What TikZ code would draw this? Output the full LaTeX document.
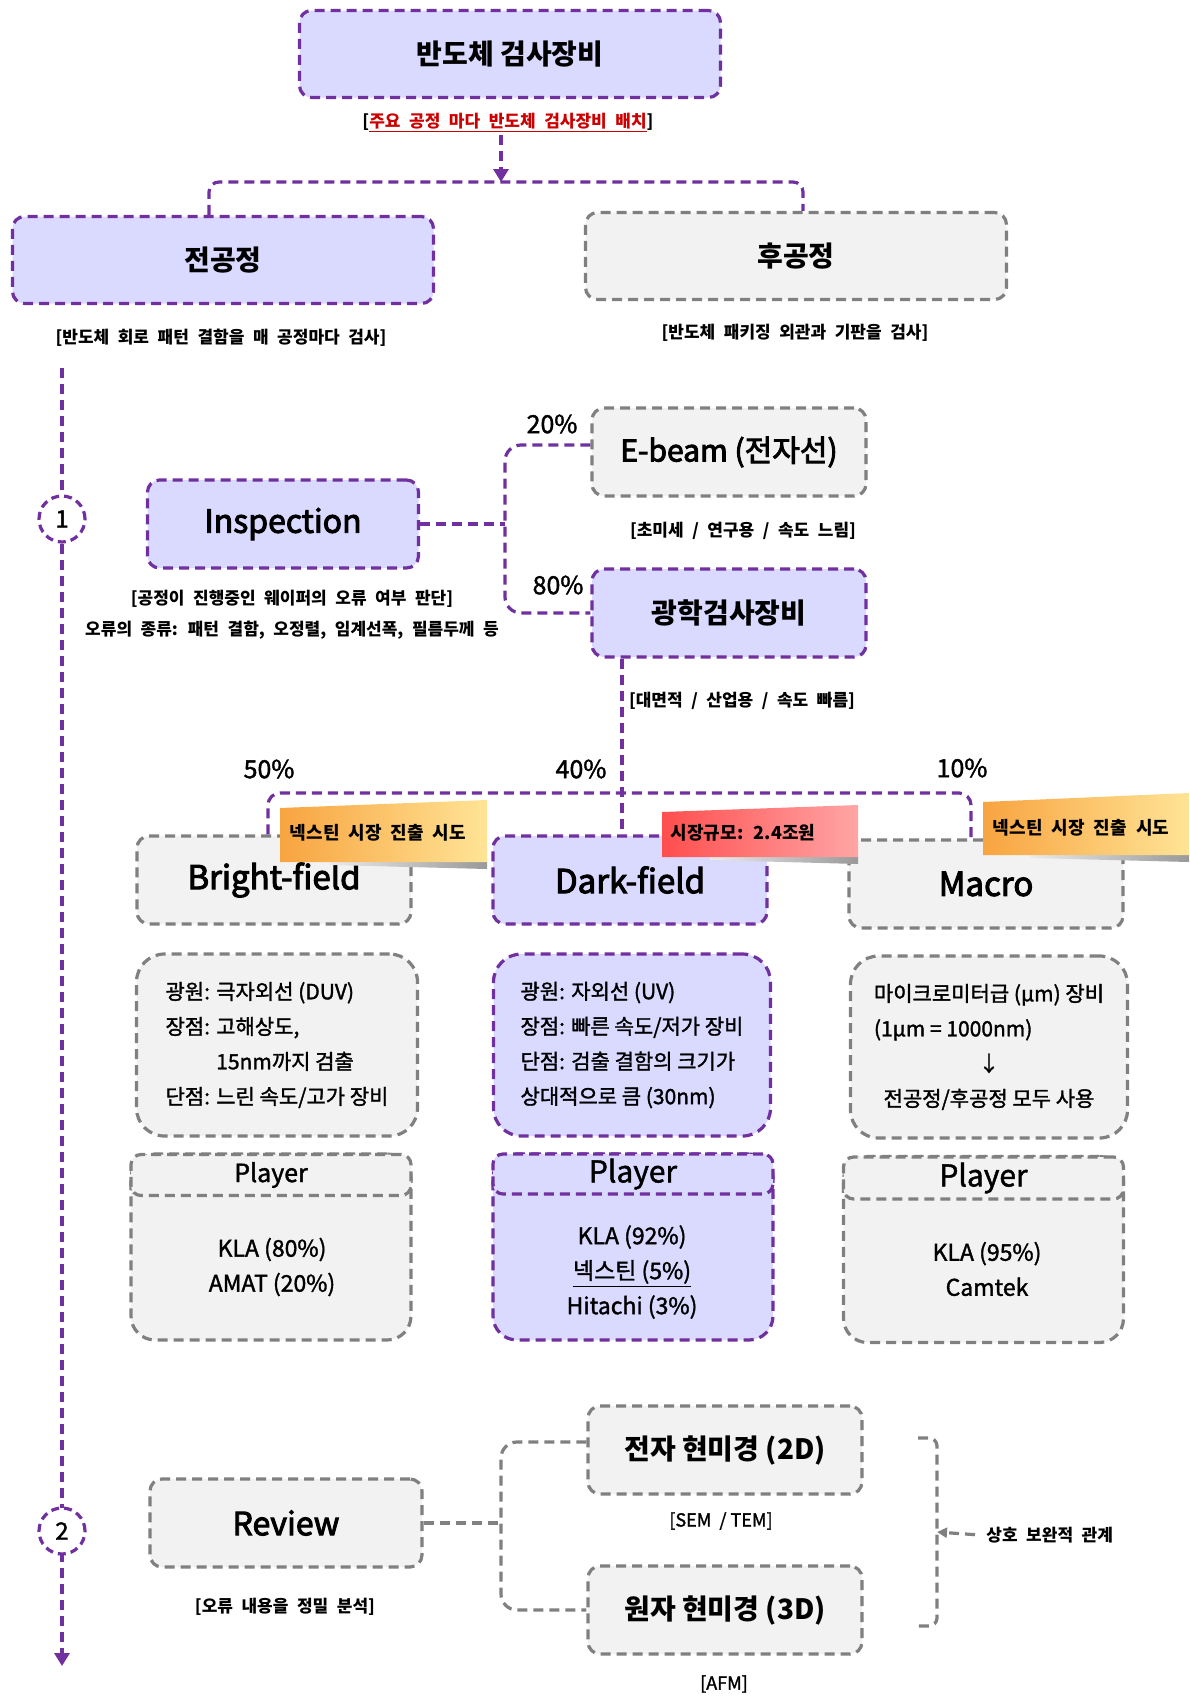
\documentclass[tikz,border=0pt]{standalone}
\usepackage{fontspec}
\setmainfont{Noto Sans CJK KR}
\newfontfamily\medfont{Noto Sans CJK KR}[FakeBold=1.5]
\newfontfamily\headfont{Noto Sans CJK KR}[FakeBold=3]
\newfontfamily\notefont{Noto Sans CJK KR}[WordSpace=2.2]
\usetikzlibrary{arrows.meta}
\definecolor{violetline}{RGB}{112,48,160}
\definecolor{lavender}{RGB}{218,217,255}
\definecolor{greyline}{RGB}{128,128,128}
\definecolor{greyfill}{RGB}{242,242,242}
\definecolor{redtext}{RGB}{204,0,0}
\definecolor{noteorange}{RGB}{248,164,64}
\definecolor{noteyellow}{RGB}{255,228,150}
\definecolor{notered}{RGB}{255,78,78}
\definecolor{notepink}{RGB}{255,165,165}
\begin{document}
\begin{tikzpicture}[x=0.5pt,y=-0.5pt,
  pline/.style={draw=violetline, line width=1.6pt, dash pattern=on 5pt off 3pt},
  gline/.style={draw=greyline, line width=1.6pt, dash pattern=on 5pt off 3pt},
  purplebox/.style={pline, fill=lavender, rounded corners=6pt, inner sep=0pt},
  greybox/.style={gline, fill=greyfill, rounded corners=6pt, inner sep=0pt},
  widebox/.style={minimum width=210.5pt, minimum height=43.5pt},
  midbox/.style={minimum width=137pt, minimum height=44pt},
  infobox/.style={rounded corners=14pt, minimum width=139pt, minimum height=91pt},
  playerbox/.style={rounded corners=12pt, minimum width=140pt, minimum height=93pt},
  headbox/.style={rounded corners=5pt, minimum width=140pt, minimum height=20.5pt},
  ktitle/.style={font=\fontsize{14}{17}\selectfont\bfseries},
  etitle/.style={font=\headfont\fontsize{16.5}{20}\selectfont},
  smalltxt/.style={font=\notefont\fontsize{8.5}{11}\selectfont\bfseries, inner sep=1pt},
  pcttxt/.style={font=\medfont\fontsize{12.5}{15}\selectfont},
  infotxt/.style={font=\medfont\fontsize{10.5}{17.5}\selectfont, align=left},
  sharetxt/.style={font=\medfont\fontsize{11.5}{17.5}\selectfont, align=center},
  notetxt/.style={font=\notefont\fontsize{9}{11}\selectfont\bfseries},
  stepcircle/.style={circle, draw=violetline, line width=1.6pt, dash pattern=on 4pt off 2.5pt,
    fill=white, minimum size=23pt, inner sep=0pt, font=\medfont\fontsize{12}{14}\selectfont},
  flowtip/.style={-{Triangle[width=7.5pt,length=6.5pt]}}
]
\useasboundingbox (0,0) rectangle (1189,1697);

\node[purplebox, widebox, ktitle] (title) at (510,54) {반도체 검사장비};
\node[smalltxt] (titlenote) at (508,123) {[\textcolor{redtext}{\underline{주요 공정 마다 반도체 검사장비 배치}}]};
\node[purplebox, widebox, ktitle] (front) at (223,260) {전공정};
\node[greybox, widebox, ktitle] (back) at (796,256) {후공정};
\node[smalltxt] (frontnote) at (221,338) {[반도체 회로 패턴 결함을 매 공정마다 검사]};
\node[smalltxt] (backnote) at (795,333) {[반도체 패키징 외관과 기판을 검사]};

\coordinate (busarrow) at (501,182);
\coordinate (busleftA) at (209,182);
\coordinate (busrightA) at (803,182);
\draw[pline, flowtip] (titlenote.south -| busarrow) -- (busarrow);
\draw[pline, rounded corners=5pt] (front.north -| busleftA) |- (busrightA) -- (back.north -| busrightA);

\coordinate (flowtop) at (62,368);
\coordinate (flowend) at (62,1666);
\draw[pline, flowtip] (flowtop) -- (flowend);
\node[stepcircle] (stepone) at (62,519) {1};
\node[stepcircle] (steptwo) at (62,1531) {2};

\node[purplebox, midbox, minimum width=135.5pt, font=\headfont\fontsize{16}{18}\selectfont] (insp) at (283,524) {Inspection};
\node[smalltxt, align=center, font=\notefont\fontsize{8.5}{15.5}\selectfont\bfseries] (inspnote) at (292,615) {[공정이 진행중인 웨이퍼의 오류 여부 판단]\\오류의 종류: 패턴 결함, 오정렬, 임계선폭, 필름두께 등};

\node[greybox, midbox, font=\headfont\fontsize{15}{18}\selectfont] (ebeam) at (729,452) {E-beam (전자선)};
\node[pcttxt] (ebeampct) at (552,424) {20\%};
\node[smalltxt] (ebeamnote) at (743,531) {[초미세 / 연구용 / 속도 느림]};
\node[purplebox, midbox, ktitle] (optic) at (729,613) {광학검사장비};
\node[pcttxt] (opticpct) at (558,585) {80\%};
\node[smalltxt] (opticnote) at (742,701) {[대면적 / 산업용 / 속도 빠름]};

\coordinate (inspjoint) at (505,524);
\draw[pline] (insp.east) -- (inspjoint);
\draw[pline, rounded corners=8pt] ([yshift=3.5pt]ebeam.west) -| (inspjoint) |- (optic.west);

\node[pcttxt] (brightpct) at (269,769) {50\%};
\node[pcttxt] (darkpct) at (581,769) {40\%};
\node[pcttxt] (macropct) at (962,768) {10\%};
\node[greybox, midbox, etitle] (bright) at (274,880) {Bright-field};
\node[purplebox, midbox, etitle] (dark) at (630,880) {Dark-field};
\node[greybox, midbox, etitle] (macro) at (986,884) {Macro};

\coordinate (busleft) at (268,793);
\coordinate (busright) at (971,793);
\coordinate (busmid) at (622,793);
\draw[pline] (optic.south -| busmid) -- (dark.north -| busmid);
\draw[pline, rounded corners=6pt] (bright.north -| busleft) |- (busright) -- (macro.north -| busright);

\shade[left color=black!8, right color=black!40] (330,862) -- (487,862) -- (487,869) -- (330,865) -- cycle;
\shade[left color=noteorange, right color=noteyellow] (280,808) -- (487,800) -- (487,862) -- (280,862) -- cycle;
\node[notetxt] (nextinA) at (378,833) {넥스틴 시장 진출 시도};
\shade[left color=black!8, right color=black!40] (710,857) -- (858,857) -- (858,864) -- (710,860) -- cycle;
\shade[left color=notered, right color=notepink] (662,812) -- (858,805) -- (858,857) -- (662,857) -- cycle;
\node[notetxt] (marketsize) at (743,833) {시장규모: 2.4조원};
\shade[left color=black!8, right color=black!40] (1030,855) -- (1189,855) -- (1189,862) -- (1030,858) -- cycle;
\shade[left color=noteorange, right color=noteyellow] (983,802) -- (1189,793) -- (1189,855) -- (983,855) -- cycle;
\node[notetxt] (nextinB) at (1081,828) {넥스틴 시장 진출 시도};

\node[greybox, infobox, minimum width=140.5pt, infotxt] (brightinfo) at (277,1045) {광원: 극자외선 (DUV)\\장점: 고해상도,\\\hphantom{장점: }15nm까지 검출\\단점: 느린 속도/고가 장비};
\node[purplebox, infobox, minimum width=138.5pt, infotxt] (darkinfo) at (632,1045) {광원: 자외선 (UV)\\장점: 빠른 속도/저가 장비\\단점: 검출 결함의 크기가\\상대적으로 큼 (30nm)};
\node[greybox, infobox, minimum width=138.5pt, infotxt, align=center] (macroinfo) at (989,1047) {마이크로미터급 (μm) 장비\\\rlap{(1μm = 1000nm)}\hphantom{마이크로미터급 (μm) 장비}\\↓\\전공정/후공정 모두 사용};

\node[greybox, playerbox] (brightplayer) at (271,1247) {};
\node[greybox, headbox, font=\medfont\fontsize{12.5}{15}\selectfont] (brighthead) at (271,1175) {Player};
\node[sharetxt] (brightshare) at (272,1267) {KLA (80\%)\\AMAT (20\%)};
\node[purplebox, playerbox] (darkplayer) at (633,1247) {};
\node[purplebox, headbox, minimum height=20pt, font=\medfont\fontsize{15}{18}\selectfont] (darkhead) at (633,1174) {Player};
\node[sharetxt] (darkshare) at (632,1272) {KLA (92\%)\\\underline{넥스틴 (5\%)}\\Hitachi (3\%)};
\node[greybox, playerbox] (macroplayer) at (983.5,1249.5) {};
\node[greybox, headbox, minimum height=21pt, font=\medfont\fontsize{15}{18}\selectfont] (macrohead) at (983.5,1178) {Player};
\node[sharetxt] (macroshare) at (987,1269) {KLA (95\%)\\Camtek};

\node[greybox, midbox, minimum width=136pt, font=\headfont\fontsize{16}{18}\selectfont] (review) at (286,1523) {Review};
\node[smalltxt] (reviewnote) at (285,1607) {[오류 내용을 정밀 분석]};
\node[greybox, midbox, ktitle] (semtem) at (725,1450) {전자 현미경 (2D)};
\node[font=\medfont\fontsize{9}{11}\selectfont] (semtemnote) at (721,1521) {[SEM\ \ / TEM]};
\node[greybox, midbox, ktitle] (afm) at (725,1610) {원자 현미경 (3D)};
\node[font=\medfont\fontsize{9}{11}\selectfont] (afmnote) at (724,1684) {[AFM]};

\coordinate (reviewjoint) at (501,1523);
\draw[gline] (review.east) -- (reviewjoint);
\draw[gline, rounded corners=8pt] ([yshift=4pt]semtem.west) -| (reviewjoint) |- (afm.west);

\coordinate (brtop) at (918,1438);
\coordinate (brmid) at (937,1532);
\coordinate (brbot) at (918,1626);
\draw[gline, rounded corners=4pt] (brtop) -| (brmid) |- (brbot);
\node[smalltxt, anchor=west, inner sep=3pt] (relation) at (980,1535) {상호 보완적 관계};
\draw[gline, shorten <=2.5pt, -{Triangle[width=5pt,length=5pt]}] (relation.west) -- (brmid);
\end{tikzpicture}
\end{document}
